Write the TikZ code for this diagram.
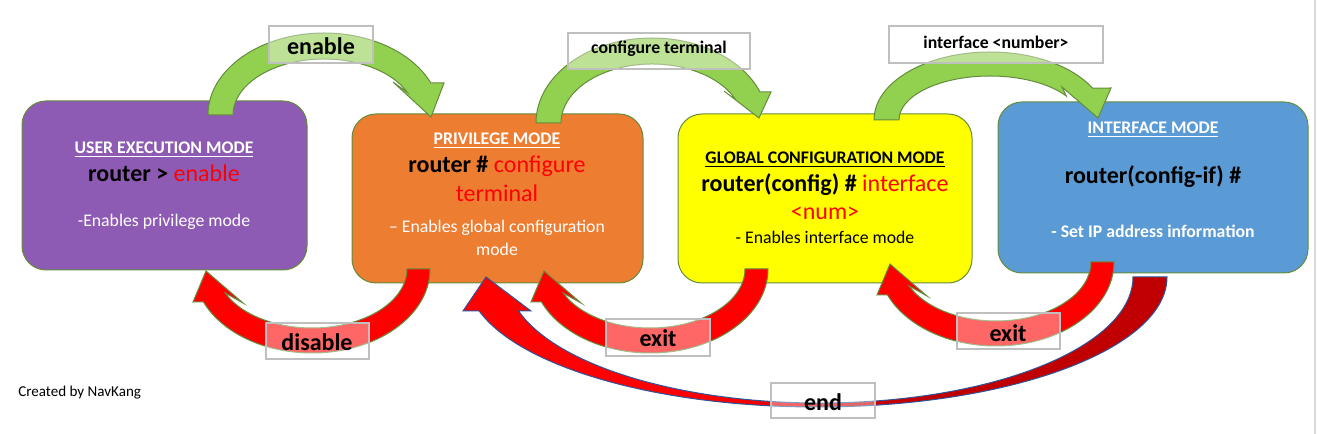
\documentclass[tikz,border=0pt]{standalone}
\usepackage{fontspec}
\setmainfont{Carlito}
\usetikzlibrary{calc}
\definecolor{purpleF}{RGB}{142,91,180}
\definecolor{orangeF}{RGB}{237,125,49}
\definecolor{yellowF}{RGB}{255,255,0}
\definecolor{blueF}{RGB}{91,155,213}
\definecolor{greenF}{RGB}{146,208,80}
\definecolor{redF}{RGB}{255,0,0}
\definecolor{darkredF}{RGB}{192,0,0}
\definecolor{outlineG}{RGB}{100,140,60}
\definecolor{outlineB}{RGB}{47,85,151}
\definecolor{labelG}{RGB}{191,191,191}
\definecolor{edgeG}{RGB}{217,217,217}
\pgfdeclarehorizontalshading{endshade}{100bp}{color(0bp)=(redF); color(42bp)=(redF); color(58bp)=(darkredF); color(100bp)=(darkredF)}
\begin{document}
\begin{tikzpicture}[x=0.75pt,y=0.75pt,
  modebox/.style={draw=outlineG, line width=0.75pt, rounded corners=18pt, inner sep=0pt},
  garrow/.style={fill=greenF, draw=outlineG, line width=0.75pt, line join=miter},
  rarrow/.style={fill=redF, draw=outlineG, line width=0.75pt, line join=miter},
  earrow/.style={shading=endshade, draw=outlineB, line width=0.75pt, line join=miter},
  lbl/.style={draw=labelG, line width=1.1pt, fill=white, fill opacity=0.4, text opacity=1, inner sep=0pt},
  smalltxt/.style={font=\fontsize{13.3}{16}\selectfont, inner sep=0pt, anchor=base},
  bigtxt/.style={font=\fontsize{18}{22}\selectfont, inner sep=0pt, anchor=base},
  lbltxt/.style={font=\bfseries\fontsize{18}{22}\selectfont, inner sep=0pt, anchor=base},
  lbltxts/.style={font=\bfseries\fontsize{13.3}{16}\selectfont, inner sep=0pt, anchor=base}]
\useasboundingbox (0,0) rectangle (1318,-434);
\fill[white] (0,0) rectangle (1318,-434);
\draw[edgeG, line width=1pt] (1315,0) -- (1315,-434);

% mode boxes
\node[modebox, fill=purpleF, minimum width=285*0.75pt, minimum height=169*0.75pt] (user) at (164.5,-185.5) {};
\node[modebox, fill=orangeF, minimum width=291*0.75pt, minimum height=169*0.75pt] (priv) at (497.5,-198.5) {};
\node[modebox, fill=yellowF, minimum width=294*0.75pt, minimum height=169*0.75pt] (glob) at (825,-198.5) {};
\node[modebox, fill=blueF, minimum width=310*0.75pt, minimum height=171*0.75pt] (intf) at (1153,-187.5) {};

% box texts
\node[smalltxt, text=white] (userTitle) at (164,-154) {\textbf{\underline{USER EXECUTION MODE}}};
\node[bigtxt] (userCmd) at (164,-182) {\textbf{router >} \textcolor{redF}{enable}};
\node[smalltxt, text=white] (userBody) at (164,-227) {-Enables privilege mode};

\node[smalltxt, text=white] (privTitle) at (497,-145) {\textbf{\underline{PRIVILEGE MODE}}};
\node[bigtxt] (privCmd) at (497,-173) {\textbf{router \#} \textcolor{redF}{configure}};
\node[bigtxt, text=redF] (privCmdB) at (497,-202) {terminal};
\node[smalltxt, text=white] (privBody) at (497,-233) {– Enables global configuration};
\node[smalltxt, text=white] (privBodyB) at (497,-256) {mode};

\node[smalltxt] (globTitle) at (825,-164) {\textbf{\underline{GLOBAL CONFIGURATION MODE}}};
\node[bigtxt] (globCmd) at (825,-192) {\textbf{router(config) \#} \textcolor{redF}{interface}};
\node[bigtxt, text=redF] (globCmdB) at (825,-220) {<num>};
\node[smalltxt] (globBody) at (825,-244) {- Enables interface mode};

\node[smalltxt, text=white] (intfTitle) at (1153,-134) {\textbf{\underline{INTERFACE MODE}}};
\node[bigtxt] (intfCmd) at (1153,-184) {\textbf{router(config-if) \#}};
\node[smalltxt, text=white] (intfBody) at (1153,-238) {\textbf{- Set IP address information}};

% green arrows (top)
\draw[garrow] (208,-115) arc[start angle=180, end angle=23, x radius=116, y radius=82]
  -- (444,-83) -- (431,-117) -- (393,-82)
  -- ($(324,-115)+(24:91 and 56)$) arc[start angle=24, end angle=180, x radius=91, y radius=56] -- cycle;
\draw[garrow] (536,-123) arc[start angle=180, end angle=21.4, x radius=116, y radius=85]
  -- (771,-92) -- (759,-118) -- (724,-91)
  -- ($(652,-123)+(23:91 and 59)$) arc[start angle=23, end angle=180, x radius=91, y radius=59] -- cycle;
\draw[garrow] (874,-120) arc[start angle=180, end angle=28, x radius=116, y radius=68]
  -- (1111,-88) -- (1098,-118) -- (1062,-87)
  -- ($(990,-120)+(33:91 and 44)$) arc[start angle=33, end angle=180, x radius=91, y radius=44] -- cycle;

% red arrows (bottom)
\foreach \sx/\sy in {0/0, 338/0, 684/7}{
\begin{scope}[shift={(\sx,\sy)}]
\draw[rarrow] (430,-269) arc[start angle=0, end angle=-157, x radius=118, y radius=84]
  -- (193,-302) -- (206,-271) -- (243,-303)
  -- ($(312,-269)+(-156:95 and 59)$) arc[start angle=-156, end angle=0, x radius=95, y radius=59] -- cycle;
\end{scope}}

% end arrow
\draw[earrow] (1167,-277) arc[start angle=0, end angle=-164.84, x radius=350, y radius=130]
  -- (463,-311) -- (486,-277) -- (531,-311)
  -- ($(820,-277)+(-164.35:313 and 126)$) arc[start angle=-164.35, end angle=0, x radius=313, y radius=126] -- cycle;

% labels
\node[lbl, minimum width=104*0.75pt, minimum height=37*0.75pt] (lEnable) at (321,-44.5) {};
\node[lbltxt] (tEnable) at (321,-55) {enable};
\node[lbl, minimum width=182*0.75pt, minimum height=36*0.75pt] (lConf) at (659,-51) {};
\node[lbltxts] (tConf) at (659,-54) {configure terminal};
\node[lbl, minimum width=214*0.75pt, minimum height=37*0.75pt] (lIntf) at (996,-44.5) {};
\node[lbltxts] (tIntf) at (996,-49) {interface <number>};
\node[lbl, minimum width=103*0.75pt, minimum height=36*0.75pt] (lDis) at (317.5,-341) {};
\node[lbltxt] (tDis) at (317,-351) {disable};
\node[lbl, minimum width=104*0.75pt, minimum height=37*0.75pt] (lExitA) at (658,-337.5) {};
\node[lbltxt] (tExitA) at (658,-347) {exit};
\node[lbl, minimum width=103*0.75pt, minimum height=36*0.75pt] (lExitB) at (1008.5,-331) {};
\node[lbltxt] (tExitB) at (1008,-342) {exit};
\node[lbl, minimum width=104*0.75pt, minimum height=35*0.75pt] (lEnd) at (823,-400.5) {};
\node[lbltxt] (tEnd) at (823,-411) {end};

\node[font=\fontsize{11.3}{13}\selectfont, inner sep=0pt, anchor=base west] (credit) at (18,-397) {Created by NavKang};
\end{tikzpicture}
\end{document}
